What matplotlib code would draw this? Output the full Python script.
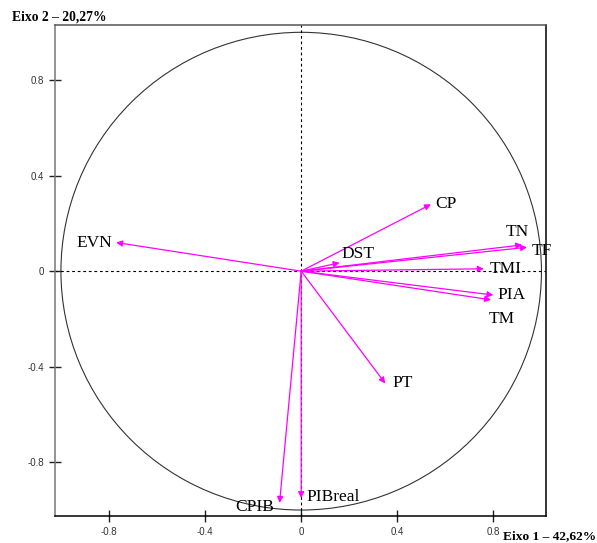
import numpy as np
import matplotlib
matplotlib.use("Agg")
import matplotlib.pyplot as plt

# loadings (eixo 1, eixo 2)
names = ["CP", "TN", "TF", "DST", "TMI", "PIA", "TM", "EVN", "PT", "CPIB", "PIBreal"]
eixo1 = [0.54, 0.92, 0.94, 0.16, 0.76, 0.80, 0.79, -0.77, 0.35, -0.09, 0.00]
eixo2 = [0.28, 0.11, 0.10, 0.035, 0.01, -0.10, -0.12, 0.12, -0.47, -0.97, -0.95]
ticks = [-0.8, -0.4, 0, 0.4, 0.8]
tick_labels = ["-0.8", "-0.4", "0", "0.4", "0.8"]

# label offsets in points (dx, dy, ha)
offs = {
    "CP": (3, 0, "left"),
    "TN": (-12, 9, "left"),
    "TF": (3, -3, "left"),
    "DST": (1, 6, "left"),
    "TMI": (4, 0, "left"),
    "PIA": (3, 0, "left"),
    "TM": (-2, -14, "left"),
    "EVN": (-3, 0, "right"),
    "PT": (5, 0, "left"),
    "CPIB": (-4, -3, "right"),
    "PIBreal": (4, 1, "left"),
}

fig = plt.figure(figsize=(5.97, 5.43), dpi=100)
ax = fig.add_axes([0.092, 0.0497, 0.823, 0.904])

ax.add_patch(plt.Circle((0, 0), 1, fill=False, color="#333333", lw=0.8))
ax.axhline(0, color="black", ls=(0, (2.5, 2.5)), lw=0.8)
ax.axvline(0, color="black", ls=(0, (2.5, 2.5)), lw=0.8)

for n, x, y in zip(names, eixo1, eixo2):
    ax.annotate("", xy=(x, y), xytext=(0, 0),
                arrowprops=dict(arrowstyle="-|>", color="#ff00ff", lw=0.9,
                                mutation_scale=9, shrinkA=0, shrinkB=0))
    dx, dy, ha = offs[n]
    ax.annotate(n, xy=(x, y), xytext=(dx, dy), textcoords="offset points",
                ha=ha, va="center", fontsize=12.5, family="Liberation Serif")

ax.set_xlim(-1.025, 1.02)
ax.set_ylim(-1.025, 1.03)
ax.set_xticks(ticks)
ax.set_xticklabels(tick_labels)
ax.set_yticks(ticks)
ax.set_yticklabels(tick_labels)
ax.tick_params(direction="inout", length=8, width=1, labelsize=7,
               colors="#222222", labelcolor="#333333", pad=4)
for lab in ax.get_xticklabels() + ax.get_yticklabels():
    lab.set_family("Liberation Sans")
for s in ax.spines.values():
    s.set_linewidth(1.1)
ax.spines["left"].set_color("#777777")
ax.spines["top"].set_color("#555555")

fig.text(0.02, 0.968, "Eixo 2 \u2013 20,27%", fontsize=9.8, fontweight="bold",
         family="Liberation Serif", ha="left", va="center")
fig.text(0.998, 0.013, "Eixo 1 \u2013 42,62%", fontsize=9.6, fontweight="bold",
         family="Liberation Serif", ha="right", va="center")

fig.savefig("out.png", dpi=100)
